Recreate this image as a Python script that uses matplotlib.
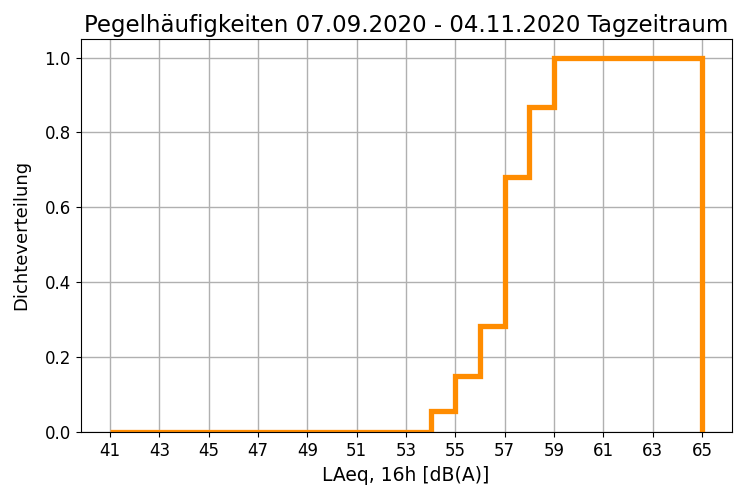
import matplotlib
matplotlib.use("Agg")
import matplotlib.pyplot as plt
import numpy as np

bin_edges = list(range(41, 66))
cumulative = [0.0]*13 + [0.057, 0.15, 0.283, 0.68, 0.868, 1.0, 1.0, 1.0, 1.0, 1.0, 1.0]
xticks = list(range(41, 66, 2))
yticks = [0.0, 0.2, 0.4, 0.6, 0.8, 1.0]

fig = plt.figure(figsize=(7.39, 4.91), dpi=100)
ax = fig.add_axes([0.109, 0.12, 0.881, 0.801])
ax.stairs(cumulative, bin_edges, color='darkorange', linewidth=3.8, alpha=1.0, baseline=0)
ax.set_xlim(39.8, 66.2)
ax.set_ylim(0, 1.05)
ax.set_xticks(xticks)
ax.set_yticks(yticks)
ax.set_yticklabels([f"{v:.1f}" for v in yticks])
ax.tick_params(labelsize=12)
ax.grid(True, color='#b0b0b0', linewidth=1)
ax.set_axisbelow(True)
ax.set_xlabel("LAeq, 16h [dB(A)]", fontsize=13.5)
ax.set_ylabel("Dichteverteilung", fontsize=13)
ax.yaxis.set_label_coords(-0.077, 0.5)
ax.xaxis.set_label_coords(0.5, -0.087)
ax.set_title("Pegelhäufigkeiten 07.09.2020 - 04.11.2020 Tagzeitraum", fontsize=16.5, pad=5)
fig.savefig("out.png", dpi=100)
